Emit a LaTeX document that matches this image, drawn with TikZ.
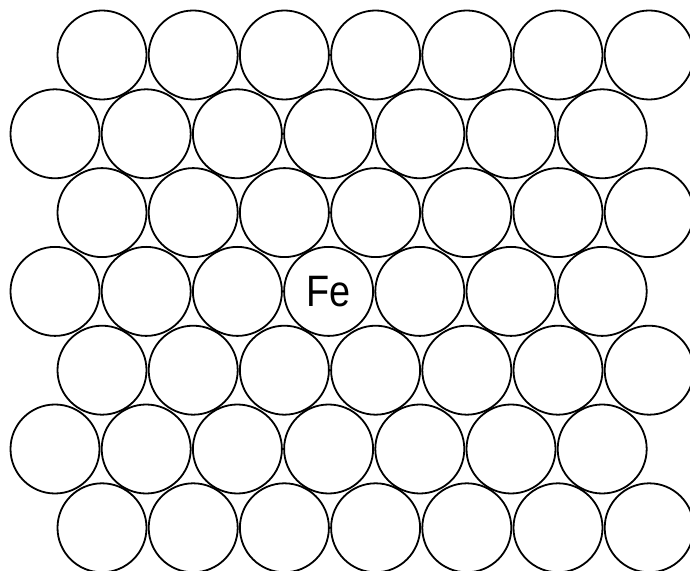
\documentclass[tikz,border=0pt]{standalone}
\usepackage{fontspec}
\setmainfont{Liberation Sans}
\begin{document}
\begin{tikzpicture}[x=1pt,y=1pt,
  atom/.style={circle,draw=black,line width=1.8pt,minimum size=89pt,inner sep=0pt}]
\useasboundingbox (0,0) rectangle (690,570);
\clip (0,0) rectangle (690,570);
\foreach \r in {0,...,6}{
  \pgfmathsetmacro{\xo}{mod(\r,2)==0 ? 102 : 55}
  \pgfmathsetmacro{\yy}{570-55-78.8*\r}
  \foreach \i in {0,...,6}{
    \ifnum\r=3 \ifnum\i=3 \else
      \node[atom] (c-\r-\i) at ({\xo+91.2*\i},\yy) {};
    \fi\else
      \node[atom] (c-\r-\i) at ({\xo+91.2*\i},\yy) {};
    \fi
  }
}
\node[atom] (fe) at (328.6,278.6) {\fontsize{44}{44}\selectfont\scalebox{0.86}[1]{Fe}};
\end{tikzpicture}
\end{document}
